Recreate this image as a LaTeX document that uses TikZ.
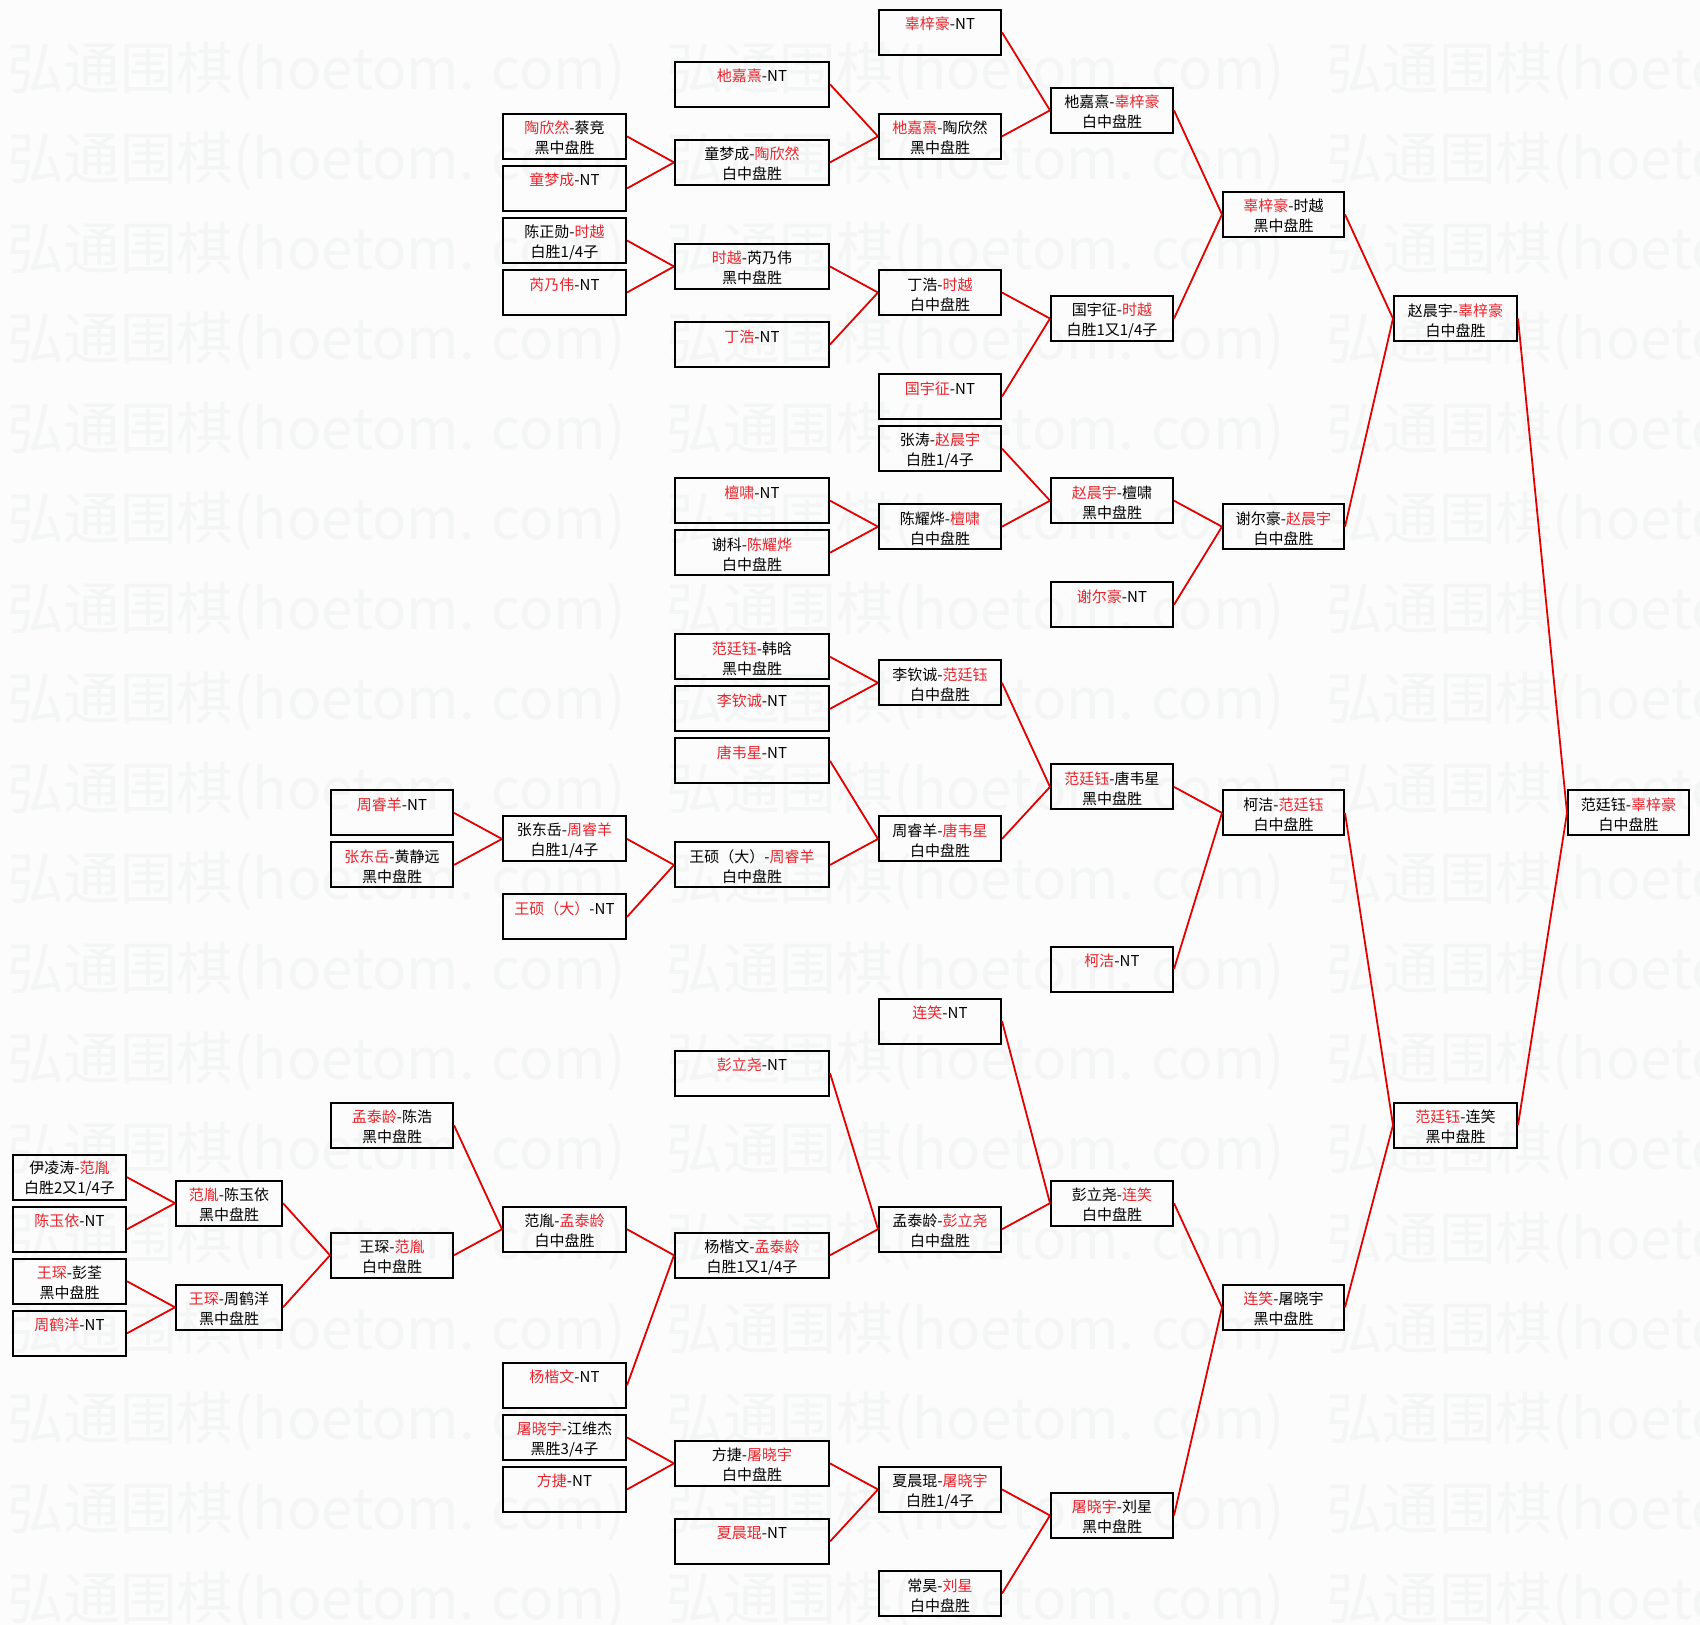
\documentclass[tikz,border=0pt]{standalone}
\usepackage{fontspec}
\usepackage{graphicx}
\newfontfamily\cjk{Noto Sans CJK SC}
\definecolor{wred}{RGB}{232,36,44}
\definecolor{lred}{RGB}{226,0,0}
\definecolor{bgcol}{RGB}{252,252,252}
\definecolor{wmcol}{RGB}{244,245,245}
\newcommand{\rd}[1]{\textcolor{wred}{#1}}
\newcommand{\bx}[6]{\node[box, minimum width=#4pt] (#1) at (#2,{32.3+26.02*#3}) {\rule{0pt}{16.2pt}#5\\\vphantom{中}#6};}
\tikzset{
  box/.style={draw=black, line width=2pt, minimum height=45pt, inner sep=0pt, align=center, font=\cjk\fontsize{15}{20}\selectfont},
  conn/.style={draw=lred, line width=1.8pt},
  wm/.style={inner sep=0pt, text=wmcol, font=\cjk\fontsize{58}{60}\selectfont}
}
\begin{document}
\begin{tikzpicture}[x=1pt,y=-1pt]
\useasboundingbox (0,0) rectangle (1700,1625);
\fill[bgcol] (0,0) rectangle (1700,1625);
\begin{scope}
\clip (0,0) rectangle (1700,1625);
\foreach \j in {0,...,17}{
  \foreach \i in {0,1,2}{
    \node[wm, anchor=base west] (wm-\j-\i) at ({7+659.5*\i},{89+90*\j}) {\resizebox{618pt}{!}{弘通围棋(hoetom. com)}};
  }
}
\end{scope}
% column 0
\bx{a0}{69.5}{44}{113}{伊凌涛-\rd{范胤}}{白胜2又1/4子}
\bx{b0}{69.5}{46}{113}{\rd{陈玉依}-NT}{}
\bx{c0}{69.5}{48}{113}{\rd{王琛}-彭荃}{黑中盘胜}
\bx{d0}{69.5}{50}{113}{\rd{周鹤洋}-NT}{}
% column 1
\bx{a1}{229}{45}{106}{\rd{范胤}-陈玉依}{黑中盘胜}
\bx{b1}{229}{49}{106}{\rd{王琛}-周鹤洋}{黑中盘胜}
% column 2
\bx{a2}{392}{30}{122}{\rd{周睿羊}-NT}{}
\bx{b2}{392}{32}{122}{\rd{张东岳}-黄静远}{黑中盘胜}
\bx{c2}{392}{42}{122}{\rd{孟泰龄}-陈浩}{黑中盘胜}
\bx{d2}{392}{47}{122}{王琛-\rd{范胤}}{白中盘胜}
% column 3
\bx{a3}{564.5}{4}{123}{\rd{陶欣然}-蔡竞}{黑中盘胜}
\bx{b3}{564.5}{6}{123}{\rd{童梦成}-NT}{}
\bx{c3}{564.5}{8}{123}{陈正勋-\rd{时越}}{白胜1/4子}
\bx{d3}{564.5}{10}{123}{\rd{芮乃伟}-NT}{}
\bx{e3}{564.5}{31}{123}{张东岳-\rd{周睿羊}}{白胜1/4子}
\bx{f3}{564.5}{34}{123}{\rd{王硕（大）}-NT}{}
\bx{g3}{564.5}{46}{123}{范胤-\rd{孟泰龄}}{白中盘胜}
\bx{h3}{564.5}{52}{123}{\rd{杨楷文}-NT}{}
\bx{i3}{564.5}{54}{123}{\rd{屠晓宇}-江维杰}{黑胜3/4子}
\bx{j3}{564.5}{56}{123}{\rd{方捷}-NT}{}
% column 4
\bx{a4}{752}{2}{154}{\rd{杝嘉熹}-NT}{}
\bx{b4}{752}{5}{154}{童梦成-\rd{陶欣然}}{白中盘胜}
\bx{c4}{752}{9}{154}{\rd{时越}-芮乃伟}{黑中盘胜}
\bx{d4}{752}{12}{154}{\rd{丁浩}-NT}{}
\bx{e4}{752}{18}{154}{\rd{檀啸}-NT}{}
\bx{f4}{752}{20}{154}{谢科-\rd{陈耀烨}}{白中盘胜}
\bx{g4}{752}{24}{154}{\rd{范廷钰}-韩晗}{黑中盘胜}
\bx{h4}{752}{26}{154}{\rd{李钦诚}-NT}{}
\bx{i4}{752}{28}{154}{\rd{唐韦星}-NT}{}
\bx{j4}{752}{32}{154}{王硕（大）-\rd{周睿羊}}{白中盘胜}
\bx{k4}{752}{40}{154}{\rd{彭立尧}-NT}{}
\bx{l4}{752}{47}{154}{杨楷文-\rd{孟泰龄}}{白胜1又1/4子}
\bx{m4}{752}{55}{154}{方捷-\rd{屠晓宇}}{白中盘胜}
\bx{n4}{752}{58}{154}{\rd{夏晨琨}-NT}{}
% column 5
\bx{a5}{940}{0}{122}{\rd{辜梓豪}-NT}{}
\bx{b5}{940}{4}{122}{\rd{杝嘉熹}-陶欣然}{黑中盘胜}
\bx{c5}{940}{10}{122}{丁浩-\rd{时越}}{白中盘胜}
\bx{d5}{940}{14}{122}{\rd{国宇征}-NT}{}
\bx{e5}{940}{16}{122}{张涛-\rd{赵晨宇}}{白胜1/4子}
\bx{f5}{940}{19}{122}{陈耀烨-\rd{檀啸}}{白中盘胜}
\bx{g5}{940}{25}{122}{李钦诚-\rd{范廷钰}}{白中盘胜}
\bx{h5}{940}{31}{122}{周睿羊-\rd{唐韦星}}{白中盘胜}
\bx{i5}{940}{38}{122}{\rd{连笑}-NT}{}
\bx{j5}{940}{46}{122}{孟泰龄-\rd{彭立尧}}{白中盘胜}
\bx{k5}{940}{56}{122}{夏晨琨-\rd{屠晓宇}}{白胜1/4子}
\bx{l5}{940}{60}{122}{常昊-\rd{刘星}}{白中盘胜}
% column 6
\bx{a6}{1112}{3}{122}{杝嘉熹-\rd{辜梓豪}}{白中盘胜}
\bx{b6}{1112}{11}{122}{国宇征-\rd{时越}}{白胜1又1/4子}
\bx{c6}{1112}{18}{122}{\rd{赵晨宇}-檀啸}{黑中盘胜}
\bx{d6}{1112}{22}{122}{\rd{谢尔豪}-NT}{}
\bx{e6}{1112}{29}{122}{\rd{范廷钰}-唐韦星}{黑中盘胜}
\bx{f6}{1112}{36}{122}{\rd{柯洁}-NT}{}
\bx{g6}{1112}{45}{122}{彭立尧-\rd{连笑}}{白中盘胜}
\bx{h6}{1112}{57}{122}{\rd{屠晓宇}-刘星}{黑中盘胜}
% column 7
\bx{a7}{1283.5}{7}{121}{\rd{辜梓豪}-时越}{黑中盘胜}
\bx{b7}{1283.5}{19}{121}{谢尔豪-\rd{赵晨宇}}{白中盘胜}
\bx{c7}{1283.5}{30}{121}{柯洁-\rd{范廷钰}}{白中盘胜}
\bx{d7}{1283.5}{49}{121}{\rd{连笑}-屠晓宇}{黑中盘胜}
% column 8
\bx{a8}{1455.5}{11}{123}{赵晨宇-\rd{辜梓豪}}{白中盘胜}
\bx{b8}{1455.5}{42}{123}{\rd{范廷钰}-连笑}{黑中盘胜}
% column 9
\bx{a9}{1628.5}{30}{121}{范廷钰-\rd{辜梓豪}}{白中盘胜}
% connectors
\foreach \c/\p in {a0/a1,b0/a1,c0/b1,d0/b1,
  a1/d2,b1/d2,
  a2/e3,b2/e3,c2/g3,d2/g3,
  a3/b4,b3/b4,c3/c4,d3/c4,e3/j4,f3/j4,g3/l4,h3/l4,i3/m4,j3/m4,
  a4/b5,b4/b5,c4/c5,d4/c5,e4/f5,f4/f5,g4/g5,h4/g5,i4/h5,j4/h5,k4/j5,l4/j5,m4/k5,n4/k5,
  a5/a6,b5/a6,c5/b6,d5/b6,e5/c6,f5/c6,g5/e6,h5/e6,i5/g6,j5/g6,k5/h6,l5/h6,
  a6/a7,b6/a7,c6/b7,d6/b7,e6/c7,f6/c7,g6/d7,h6/d7,
  a7/a8,b7/a8,c7/b8,d7/b8,
  a8/a9,b8/a9}{
  \draw[conn] (\c.east) -- (\p.west);
}
\end{tikzpicture}
\end{document}
